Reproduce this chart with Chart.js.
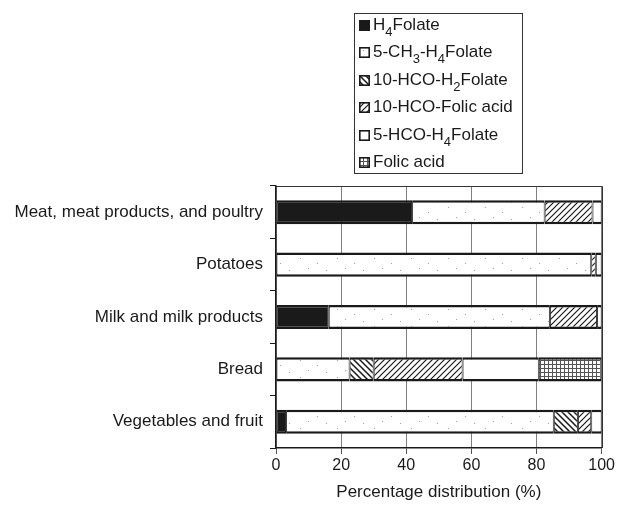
<!DOCTYPE html>
<html>
<head>
<meta charset="utf-8">
<title>Folate distribution</title>
<script src="https://cdn.jsdelivr.net/npm/chart.js@4.4.1/dist/chart.umd.min.js"></script>
<style>
  html, body { margin: 0; padding: 0; background: #fff; }
  #wrap { position: relative; width: 617px; height: 508px; }
  #legend {
    position: absolute; left: 354px; top: 13px; width: 167px; height: 159px;
    border: 1px solid #333; color: #1a1a1a;
    font: 17px 'Liberation Sans', Arial, sans-serif;
  }
  .item { position: absolute; left: 4px; height: 20px; line-height: 20px; white-space: nowrap; }
  .item canvas { vertical-align: -1px; margin-right: 3px; }
  .item sub { font-size: 13px; vertical-align: -6px; line-height: 0; }
</style>
</head>
<body>
<div id="wrap">
  <canvas id="chart" width="617" height="508"></canvas>
  <div id="legend"></div>
</div>
<script>
// categories (top to bottom) and share of each folate form, %
var categories = ['Meat, meat products, and poultry', 'Potatoes', 'Milk and milk products', 'Bread', 'Vegetables and fruit'];
var h4Folate    = [41.8, 0,    16.2, 0,    3.1];
var methylH4    = [40.7, 96.8, 67.9, 22.6, 82.2];
var formylH2    = [0,    0,    0,    7.4,  7.4];
var formylFolic = [14.7, 1.4,  14.5, 27.3, 4.1];
var formylH4    = [2.8,  1.8,  1.4,  23.4, 3.2];
var folicAcid   = [0,    0,    0,    19.3, 0];
var seriesNames = ['H<sub>4</sub>Folate', '5-CH<sub>3</sub>-H<sub>4</sub>Folate', '10-HCO-H<sub>2</sub>Folate',
                   '10-HCO-Folic acid', '5-HCO-H<sub>4</sub>Folate', 'Folic acid'];
var xTicks = [0, 20, 40, 60, 80, 100];

var INK = '#1a1a1a';
var FONT = "'Liberation Sans', Arial, sans-serif";

function tile(w, h, draw) {
  var c = document.createElement('canvas');
  c.width = w; c.height = h;
  var g = c.getContext('2d');
  g.fillStyle = '#fff';
  g.fillRect(0, 0, w, h);
  draw(g);
  return c;
}

function makeFill(kind, ctx) {
  var c;
  if (kind === 'solid') return INK;
  if (kind === 'white') return '#fff';
  if (kind === 'stipple') {
    c = tile(37, 17, function (g) {
      g.fillStyle = '#a0a0a0';
      [[4, 3], [21, 8], [12, 13], [30, 15]].forEach(function (p) { g.fillRect(p[0], p[1], 1, 1); });
    });
  } else if (kind === 'back' || kind === 'fwd') {
    var s = 6;
    c = tile(s, s, function (g) {
      g.strokeStyle = INK; g.lineWidth = kind === 'back' ? 1.5 : 1.2;
      g.beginPath();
      if (kind === 'back') {
        g.moveTo(-1, -1); g.lineTo(s + 1, s + 1);
        g.moveTo(-1, s - 1); g.lineTo(1, s + 1);
        g.moveTo(s - 1, -1); g.lineTo(s + 1, 1);
      } else {
        g.moveTo(-1, s + 1); g.lineTo(s + 1, -1);
        g.moveTo(-1, 1); g.lineTo(1, -1);
        g.moveTo(s - 1, s + 1); g.lineTo(s + 1, s - 1);
      }
      g.stroke();
    });
  } else if (kind === 'grid') {
    c = tile(4, 4, function (g) {
      g.fillStyle = '#555';
      g.fillRect(0, 0, 4, 1);
      g.fillRect(0, 0, 1, 4);
    });
  }
  return ctx.createPattern(c, 'repeat');
}

var kinds = ['solid', 'stipple', 'back', 'fwd', 'white', 'grid'];
var seriesData = [h4Folate, methylH4, formylH2, formylFolic, formylH4, folicAcid];

var ctx = document.getElementById('chart').getContext('2d');
var fills = kinds.map(function (k) { return makeFill(k, ctx); });

// legend as html so the subscripts stay real text
var legend = document.getElementById('legend');
seriesNames.forEach(function (name, i) {
  var item = document.createElement('div');
  item.className = 'item';
  item.style.top = (1 + i * 27.4) + 'px';
  var sw = document.createElement('canvas');
  sw.width = 11; sw.height = 11;
  var g = sw.getContext('2d');
  g.fillStyle = makeFill(kinds[i], g);
  g.fillRect(0, 0, 11, 11);
  g.strokeStyle = INK; g.lineWidth = 1.6;
  g.strokeRect(0.8, 0.8, 9.4, 9.4);
  item.appendChild(sw);
  var span = document.createElement('span');
  span.innerHTML = name;
  item.appendChild(span);
  legend.appendChild(item);
});

var frame = {
  id: 'frame',
  afterDatasetsDraw: function (chart) {
    var a = chart.chartArea, c = chart.ctx;
    c.save();
    c.strokeStyle = '#333';
    c.lineWidth = 1;
    c.beginPath();
    c.moveTo(a.left, Math.round(a.top) + 0.5);
    c.lineTo(Math.round(a.right) + 0.5, Math.round(a.top) + 0.5);
    c.lineTo(Math.round(a.right) + 0.5, a.bottom);
    c.stroke();
    c.restore();
  }
};

new Chart(ctx, {
  type: 'bar',
  data: {
    labels: categories,
    datasets: seriesData.map(function (d, i) {
      return {
        label: seriesNames[i].replace(/<\/?sub>/g, ''),
        data: d,
        backgroundColor: fills[i],
        borderColor: INK,
        borderWidth: { top: 2.5, bottom: 2.5, left: 1, right: 1 },
        borderSkipped: false,
        barPercentage: 0.46,
        categoryPercentage: 1
      };
    })
  },
  options: {
    indexAxis: 'y',
    responsive: false,
    animation: false,
    layout: { padding: { left: 6, right: 14, top: 186, bottom: 0 } },
    plugins: { legend: { display: false }, tooltip: { enabled: false } },
    scales: {
      x: {
        stacked: true, min: 0, max: 100,
        afterBuildTicks: function (s) { s.ticks = xTicks.map(function (v) { return { value: v }; }); },
        afterFit: function (s) { s.height = 60; },
        ticks: { color: INK, font: { family: FONT, size: 16 }, padding: 2, maxRotation: 0 },
        grid: { color: '#808080', tickColor: '#555', tickLength: 6, lineWidth: 1 },
        border: { color: INK, width: 1.5 },
        title: { display: true, text: 'Percentage distribution (%)', color: INK,
                 font: { family: FONT, size: 17 }, padding: { top: 0, bottom: 5 } }
      },
      y: {
        stacked: true,
        afterFit: function (s) { s.width = 270; },
        ticks: { color: INK, font: { family: FONT, size: 17 }, padding: 7 },
        grid: { offset: true, drawOnChartArea: false, tickLength: 6, color: INK, lineWidth: 1 },
        border: { color: INK, width: 1.5 }
      }
    }
  },
  plugins: [frame]
});
</script>
</body>
</html>
